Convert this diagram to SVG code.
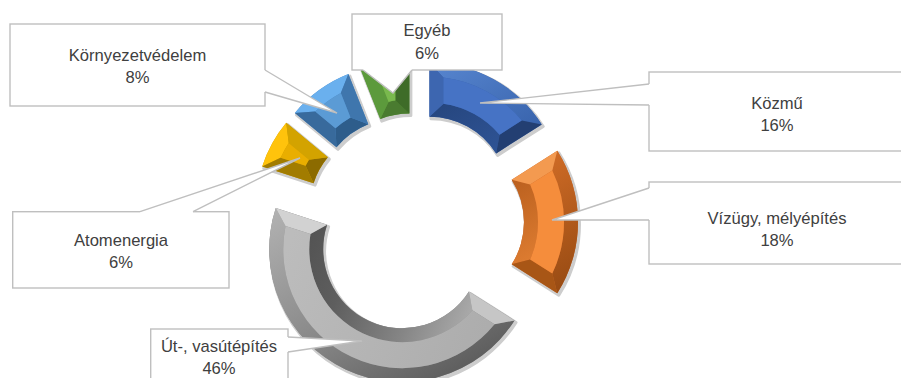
<svg xmlns="http://www.w3.org/2000/svg" width="901" height="378" viewBox="0 0 901 378">
<defs>
<style>
.lbl{font-family:"Liberation Sans",Arial,sans-serif;font-size:16.6px;fill:#404040;text-anchor:middle}
.box{fill:#fff;stroke:#bfbfbf;stroke-width:1.4}
.wedge{fill:#fff;stroke:none}
.leg{fill:none;stroke:#bfbfbf;stroke-width:1.4}
.rim{fill:#cdcdcd;stroke:#cdcdcd;stroke-width:3;stroke-linejoin:round}
</style>
<linearGradient id="gBlueOut" gradientUnits="userSpaceOnUse" x1="-70" y1="-120" x2="70" y2="120" gradientTransform="rotate(-28.8)">
<stop offset="0" stop-color="#5f8ed8"/><stop offset="0.5" stop-color="#3762ab"/><stop offset="1" stop-color="#1f3b6b"/>
</linearGradient>
<linearGradient id="gBlueIn" gradientUnits="userSpaceOnUse" x1="-70" y1="-120" x2="70" y2="120" gradientTransform="rotate(-28.8)">
<stop offset="0" stop-color="#1e3a6a"/><stop offset="0.5" stop-color="#2f5496"/><stop offset="1" stop-color="#5a88d0"/>
</linearGradient>
<linearGradient id="gOrOut" gradientUnits="userSpaceOnUse" x1="-70" y1="-120" x2="70" y2="120" gradientTransform="rotate(-90)">
<stop offset="0" stop-color="#f08a3c"/><stop offset="0.45" stop-color="#d26d27"/><stop offset="1" stop-color="#8f4610"/>
</linearGradient>
<linearGradient id="gOrIn" gradientUnits="userSpaceOnUse" x1="-70" y1="-120" x2="70" y2="120" gradientTransform="rotate(-90)">
<stop offset="0" stop-color="#8f4610"/><stop offset="0.45" stop-color="#b55c1c"/><stop offset="0.8" stop-color="#e07e32"/><stop offset="1" stop-color="#f59045"/>
</linearGradient>
<linearGradient id="gGrOut" gradientUnits="userSpaceOnUse" x1="-70" y1="-120" x2="70" y2="120" gradientTransform="rotate(-205.2)">
<stop offset="0" stop-color="#bebebe"/><stop offset="0.25" stop-color="#a8a8a8"/><stop offset="0.6" stop-color="#8a8a8a"/><stop offset="1" stop-color="#5c5c5c"/>
</linearGradient>
<linearGradient id="gGrIn" gradientUnits="userSpaceOnUse" x1="-100" y1="-40" x2="100" y2="40" gradientTransform="rotate(-205.2)">
<stop offset="0" stop-color="#505050"/><stop offset="0.3" stop-color="#5e5e5e"/><stop offset="0.65" stop-color="#868686"/><stop offset="1" stop-color="#b6b6b6"/>
</linearGradient>
<linearGradient id="gGrFace" gradientUnits="userSpaceOnUse" x1="-100" y1="-40" x2="100" y2="40" gradientTransform="rotate(-205.2)">
<stop offset="0" stop-color="#bcbcbc"/><stop offset="1" stop-color="#adadad"/>
</linearGradient>
</defs>

<g id="seg-kozmu">
<path class="rim" transform="translate(416.5 224) rotate(28.8) translate(0 -30)" d="M-64.07,-116.55A133,133 0 0 1 64.07,-116.55L38.06,-69.23A79,79 0 0 0 -38.06,-69.23Z"/>
<g transform="translate(415 222) rotate(28.8) translate(0 -30)">
<path fill="#3a64ad" d="M-64.07,-116.55A133,133 0 0 1 64.07,-116.55L38.06,-69.23A79,79 0 0 0 -38.06,-69.23Z"/>
<path fill="url(#gBlueOut)" d="M-64.07,-116.55A133,133 0 0 1 64.07,-116.55L44.66,-110.3A119,119 0 0 0 -44.66,-110.3Z"/>
<path fill="url(#gBlueIn)" d="M-38.06,-69.23A79,79 0 0 1 38.06,-69.23L32.02,-87.31A93,93 0 0 0 -32.02,-87.31Z"/>
<path fill="#3d66b0" d="M-64.07,-116.55L-44.66,-110.3L-32.02,-87.31L-38.06,-69.23Z"/>
<path fill="#233f72" d="M64.07,-116.55L44.66,-110.3L32.02,-87.31L38.06,-69.23Z"/>
<path fill="#4673c5" d="M-44.66,-110.3A119,119 0 0 1 44.66,-110.3L32.02,-87.31A93,93 0 0 0 -32.02,-87.31Z"/>
</g>
</g>

<g id="seg-vizugy">
<path class="rim" transform="translate(416.5 224) rotate(90) translate(0 -30)" d="M-71.27,-112.3A133,133 0 0 1 71.27,-112.3L42.33,-66.7A79,79 0 0 0 -42.33,-66.7Z"/>
<g transform="translate(415 222) rotate(90) translate(0 -30)">
<path fill="#c8662a" d="M-71.27,-112.3A133,133 0 0 1 71.27,-112.3L42.33,-66.7A79,79 0 0 0 -42.33,-66.7Z"/>
<path fill="url(#gOrOut)" d="M-71.27,-112.3A133,133 0 0 1 71.27,-112.3L51.5,-107.29A119,119 0 0 0 -51.5,-107.29Z"/>
<path fill="url(#gOrIn)" d="M-42.33,-66.7A79,79 0 0 1 42.33,-66.7L37.44,-85.13A93,93 0 0 0 -37.44,-85.13Z"/>
<path fill="#f39a50" d="M-71.27,-112.3L-51.5,-107.29L-37.44,-85.13L-42.33,-66.7Z"/>
<path fill="#a85616" d="M71.27,-112.3L51.5,-107.29L37.44,-85.13L42.33,-66.7Z"/>
<path fill="#f58d3c" d="M-51.5,-107.29A119,119 0 0 1 51.5,-107.29L37.44,-85.13A93,93 0 0 0 -37.44,-85.13Z"/>
</g>
</g>

<g id="seg-ut">
<path class="rim" transform="translate(416.5 224) rotate(205.2) translate(0 -30)" d="M-131.95,-16.67A133,133 0 0 1 131.95,-16.67L78.38,-9.9A79,79 0 0 0 -78.38,-9.9Z"/>
<g transform="translate(415 222) rotate(205.2) translate(0 -30)">
<path fill="#8a8a8a" d="M-131.95,-16.67A133,133 0 0 1 131.95,-16.67L78.38,-9.9A79,79 0 0 0 -78.38,-9.9Z"/>
<path fill="url(#gGrOut)" d="M-131.95,-16.67A133,133 0 0 1 131.95,-16.67L115.49,-28.71A119,119 0 0 0 -115.49,-28.71Z"/>
<path fill="url(#gGrIn)" d="M-78.38,-9.9A79,79 0 0 1 78.38,-9.9L89.46,-25.42A93,93 0 0 0 -89.46,-25.42Z"/>
<path fill="#c6c6c6" d="M-131.95,-16.67L-115.49,-28.71L-89.46,-25.42L-78.38,-9.9Z"/>
<path fill="#d2d2d2" d="M131.95,-16.67L115.49,-28.71L89.46,-25.42L78.38,-9.9Z"/>
<path fill="url(#gGrFace)" d="M-115.49,-28.71A119,119 0 0 1 115.49,-28.71L89.46,-25.42A93,93 0 0 0 -89.46,-25.42Z"/>
</g>
</g>

<g id="seg-atom">
<path class="rim" transform="translate(416.5 224) rotate(298.8) translate(0 -30)" d="M-24.92,-130.65A133,133 0 0 1 24.92,-130.65L14.8,-77.6A79,79 0 0 0 -14.8,-77.6Z"/>
<g transform="translate(415 222) rotate(298.8) translate(0 -30)">
<path fill="#c99a00" d="M-24.92,-130.65A133,133 0 0 1 24.92,-130.65L14.8,-77.6A79,79 0 0 0 -14.8,-77.6Z"/>
<path fill="#ffc30c" d="M-24.92,-130.65A133,133 0 0 1 24.92,-130.65L8.38,-118.7A119,119 0 0 0 -8.38,-118.7Z"/>
<path fill="#8c6b00" d="M-14.8,-77.6A79,79 0 0 1 14.8,-77.6L3.47,-92.93A93,93 0 0 0 -3.47,-92.93Z"/>
<path fill="#a27c00" d="M-24.92,-130.65L-8.38,-118.7L-3.47,-92.93L-14.8,-77.6Z"/>
<path fill="#d3a300" d="M24.92,-130.65L8.38,-118.7L3.47,-92.93L14.8,-77.6Z"/>
<path fill="#e9ae00" d="M-8.38,-118.7A119,119 0 0 1 8.38,-118.7L3.47,-92.93A93,93 0 0 0 -3.47,-92.93Z"/>
</g>
</g>

<g id="seg-kornyezet">
<path class="rim" transform="translate(416.5 224) rotate(324) translate(0 -30)" d="M-33.08,-128.83A133,133 0 0 1 33.08,-128.83L19.65,-76.52A79,79 0 0 0 -19.65,-76.52Z"/>
<g transform="translate(415 222) rotate(324) translate(0 -30)">
<path fill="#4a86c2" d="M-33.08,-128.83A133,133 0 0 1 33.08,-128.83L19.65,-76.52A79,79 0 0 0 -19.65,-76.52Z"/>
<path fill="#6ab0ee" d="M-33.08,-128.83A133,133 0 0 1 33.08,-128.83L15.82,-117.94A119,119 0 0 0 -15.82,-117.94Z"/>
<path fill="#2e5d8b" d="M-19.65,-76.52A79,79 0 0 1 19.65,-76.52L9.3,-92.53A93,93 0 0 0 -9.3,-92.53Z"/>
<path fill="#386a9c" d="M-33.08,-128.83L-15.82,-117.94L-9.3,-92.53L-19.65,-76.52Z"/>
<path fill="#3f76ad" d="M33.08,-128.83L15.82,-117.94L9.3,-92.53L19.65,-76.52Z"/>
<path fill="#5b9bd5" d="M-15.82,-117.94A119,119 0 0 1 15.82,-117.94L9.3,-92.53A93,93 0 0 0 -9.3,-92.53Z"/>
</g>
</g>

<g id="seg-egyeb">
<path class="rim" transform="translate(416.5 224) rotate(349.2) translate(0 -30)" d="M-24.92,-130.65A133,133 0 0 1 24.92,-130.65L14.8,-77.6A79,79 0 0 0 -14.8,-77.6Z"/>
<g transform="translate(415 222) rotate(349.2) translate(0 -30)">
<path fill="#5a9438" d="M-24.92,-130.65A133,133 0 0 1 24.92,-130.65L14.8,-77.6A79,79 0 0 0 -14.8,-77.6Z"/>
<path fill="#6fae4a" d="M-24.92,-130.65A133,133 0 0 1 24.92,-130.65L8.38,-118.7A119,119 0 0 0 -8.38,-118.7Z"/>
<path fill="#4a7b30" d="M-14.8,-77.6A79,79 0 0 1 14.8,-77.6L3.47,-92.93A93,93 0 0 0 -3.47,-92.93Z"/>
<path fill="#5c9a3c" d="M-24.92,-130.65L-8.38,-118.7L-3.47,-92.93L-14.8,-77.6Z"/>
<path fill="#3e6c28" d="M24.92,-130.65L8.38,-118.7L3.47,-92.93L14.8,-77.6Z"/>
<path fill="#79b94d" d="M-8.38,-118.7A119,119 0 0 1 8.38,-118.7L3.47,-92.93A93,93 0 0 0 -3.47,-92.93Z"/>
</g>
</g>

<g id="lbl-kornyezet">
<rect class="box" x="10" y="24" width="255" height="82"/>
<text class="lbl" x="137.5" y="61">Környezetvédelem</text>
<text class="lbl" x="137.5" y="83">8%</text>
</g>
<g id="lbl-egyeb">
<rect class="box" x="352" y="14" width="150" height="56"/>
<text class="lbl" x="427" y="36">Egyéb</text>
<text class="lbl" x="427" y="59">6%</text>
</g>
<g id="lbl-kozmu">
<rect class="box" x="649" y="72" width="256" height="79"/>
<text class="lbl" x="777" y="109">Közmű</text>
<text class="lbl" x="777" y="131">16%</text>
</g>
<g id="lbl-vizugy">
<rect class="box" x="649" y="182" width="256" height="82"/>
<text class="lbl" x="777" y="224">Vízügy, mélyépítés</text>
<text class="lbl" x="777" y="246">18%</text>
</g>
<g id="lbl-atom">
<rect class="box" x="12.7" y="211.7" width="216.3" height="76.3"/>
<text class="lbl" x="121" y="246">Atomenergia</text>
<text class="lbl" x="121" y="268">6%</text>
</g>
<g id="lbl-ut">
<rect class="box" x="150.7" y="329" width="137.3" height="60"/>
<text class="lbl" x="219" y="352">Út-, vasútépítés</text>
<text class="lbl" x="219" y="374">46%</text>
</g>

<g id="connectors">
<polygon class="wedge" points="262,70 265,70 337,113 265,92 262,92"/>
<polyline class="leg" points="265,70 337,113 265,92"/>
<polygon class="wedge" points="363,67 363,70 393,93 412,70 412,67"/>
<polyline class="leg" points="363,70 393,93 412,70"/>
<polygon class="wedge" points="652,84 649,84 480,103 649,105 652,105"/>
<polyline class="leg" points="649,84 480,103 649,105"/>
<polygon class="wedge" points="652,188 649,188 552,220 649,220 652,220"/>
<polyline class="leg" points="649,188 552,220 649,220"/>
<polygon class="wedge" points="140,214.7 140,211.7 300,158 193,211.7 193,214.7"/>
<polyline class="leg" points="140,211.7 300,158 193,211.7"/>
<polygon class="wedge" points="285,337 288,337 362,341 288,352 285,352"/>
<polyline class="leg" points="288,337 362,341 288,352"/>
</g>
</svg>
